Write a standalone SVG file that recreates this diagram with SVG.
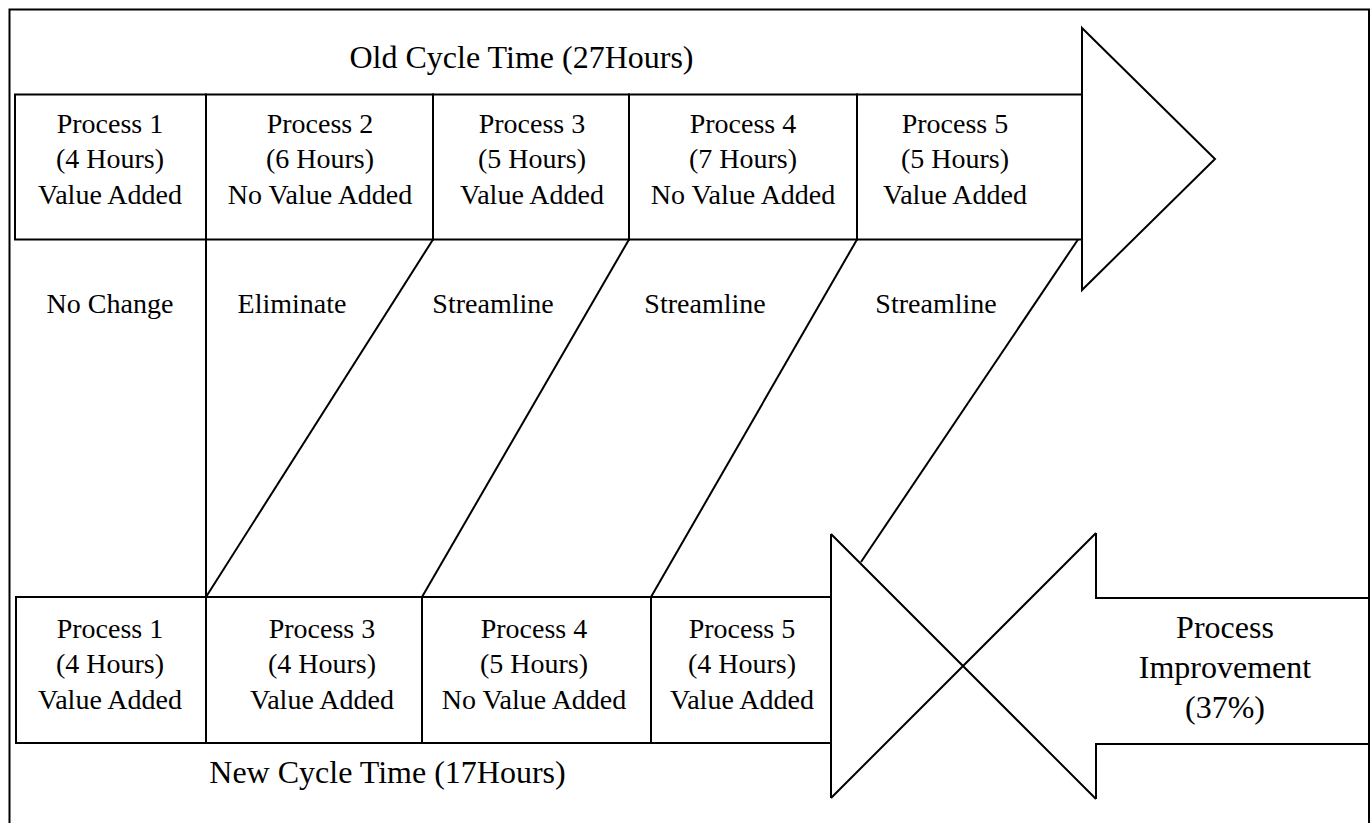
<svg xmlns="http://www.w3.org/2000/svg" width="1372" height="823" viewBox="0 0 1372 823">
  <style>
    .ln { fill: none; stroke: #000; stroke-width: 2; }
    .box { fill: #fff; stroke: #000; stroke-width: 2; }
    text { font-family: "Liberation Serif", "Times New Roman", serif; fill: #000; text-anchor: middle; }
    .t28 { font-size: 28px; }
    .t32 { font-size: 32px; }
  </style>
  <rect width="1372" height="823" fill="#fff"/>
  <!-- outer frame (bottom edge runs off the page) -->
  <rect id="frame" class="ln" x="9.5" y="9.5" width="1359.5" height="900" stroke-width="2.5"/>

  <!-- current process chain -->
  <g id="old-title">
    <text class="t32" x="521.5" y="68">Old Cycle Time (27Hours)</text>
  </g>
  <g id="old-p1">
    <rect class="box" x="15" y="94.5" width="191" height="145"/>
    <text class="t28" x="110" y="132.5">Process 1</text>
    <text class="t28" x="110" y="168">(4 Hours)</text>
    <text class="t28" x="110" y="203.5">Value Added</text>
  </g>
  <g id="old-p2">
    <rect class="box" x="206" y="94.5" width="227" height="145"/>
    <text class="t28" x="320" y="132.5">Process 2</text>
    <text class="t28" x="320" y="168">(6 Hours)</text>
    <text class="t28" x="320" y="203.5">No Value Added</text>
  </g>
  <g id="old-p3">
    <rect class="box" x="433" y="94.5" width="196" height="145"/>
    <text class="t28" x="532" y="132.5">Process 3</text>
    <text class="t28" x="532" y="168">(5 Hours)</text>
    <text class="t28" x="532" y="203.5">Value Added</text>
  </g>
  <g id="old-p4">
    <rect class="box" x="629" y="94.5" width="228" height="145"/>
    <text class="t28" x="743" y="132.5">Process 4</text>
    <text class="t28" x="743" y="168">(7 Hours)</text>
    <text class="t28" x="743" y="203.5">No Value Added</text>
  </g>
  <g id="old-p5">
    <rect class="box" x="857" y="94.5" width="225" height="145"/>
    <text class="t28" x="955" y="132.5">Process 5</text>
    <text class="t28" x="955" y="168">(5 Hours)</text>
    <text class="t28" x="955" y="203.5">Value Added</text>
  </g>
  <g id="old-arrow">
    <polygon class="box" points="1082,28 1215,159 1082,290"/>
  </g>

  <!-- actions applied to each step -->
  <g id="actions">
    <text class="t28" x="110" y="313">No Change</text>
    <text class="t28" x="292" y="313">Eliminate</text>
    <text class="t28" x="493" y="313">Streamline</text>
    <text class="t28" x="705" y="313">Streamline</text>
    <text class="t28" x="936" y="313">Streamline</text>
  </g>

  <!-- links from old steps to new steps -->
  <g id="connectors" class="ln">
    <line x1="206" y1="239.5" x2="206" y2="597"/>
    <line x1="433" y1="239.5" x2="206" y2="597"/>
    <line x1="629" y1="239.5" x2="422" y2="597"/>
    <line x1="857" y1="239.5" x2="651" y2="597"/>
    <line x1="1078" y1="239.5" x2="861" y2="562"/>
  </g>

  <!-- improved process chain -->
  <g id="new-p1">
    <rect class="box" x="16" y="597" width="190" height="146"/>
    <text class="t28" x="110" y="637.5">Process 1</text>
    <text class="t28" x="110" y="673">(4 Hours)</text>
    <text class="t28" x="110" y="708.5">Value Added</text>
  </g>
  <g id="new-p3">
    <rect class="box" x="206" y="597" width="216" height="146"/>
    <text class="t28" x="322" y="637.5">Process 3</text>
    <text class="t28" x="322" y="673">(4 Hours)</text>
    <text class="t28" x="322" y="708.5">Value Added</text>
  </g>
  <g id="new-p4">
    <rect class="box" x="422" y="597" width="229" height="146"/>
    <text class="t28" x="534" y="637.5">Process 4</text>
    <text class="t28" x="534" y="673">(5 Hours)</text>
    <text class="t28" x="534" y="708.5">No Value Added</text>
  </g>
  <g id="new-p5">
    <rect class="box" x="651" y="597" width="180" height="146"/>
    <text class="t28" x="742" y="637.5">Process 5</text>
    <text class="t28" x="742" y="673">(4 Hours)</text>
    <text class="t28" x="742" y="708.5">Value Added</text>
  </g>
  <g id="new-title">
    <text class="t32" x="387.5" y="783">New Cycle Time (17Hours)</text>
  </g>

  <!-- improvement arrow crossing the new chain's head -->
  <g id="improvement">
    <path class="ln" d="M831,534 V798 M831,534 L1096,799 M831,798 L1096,533 M1096,533 V598 H1370 M1096,799 V744 H1370"/>
    <text class="t32" x="1225" y="638">Process</text>
    <text class="t32" x="1225" y="678">Improvement</text>
    <text class="t32" x="1225" y="718">(37%)</text>
  </g>
</svg>
